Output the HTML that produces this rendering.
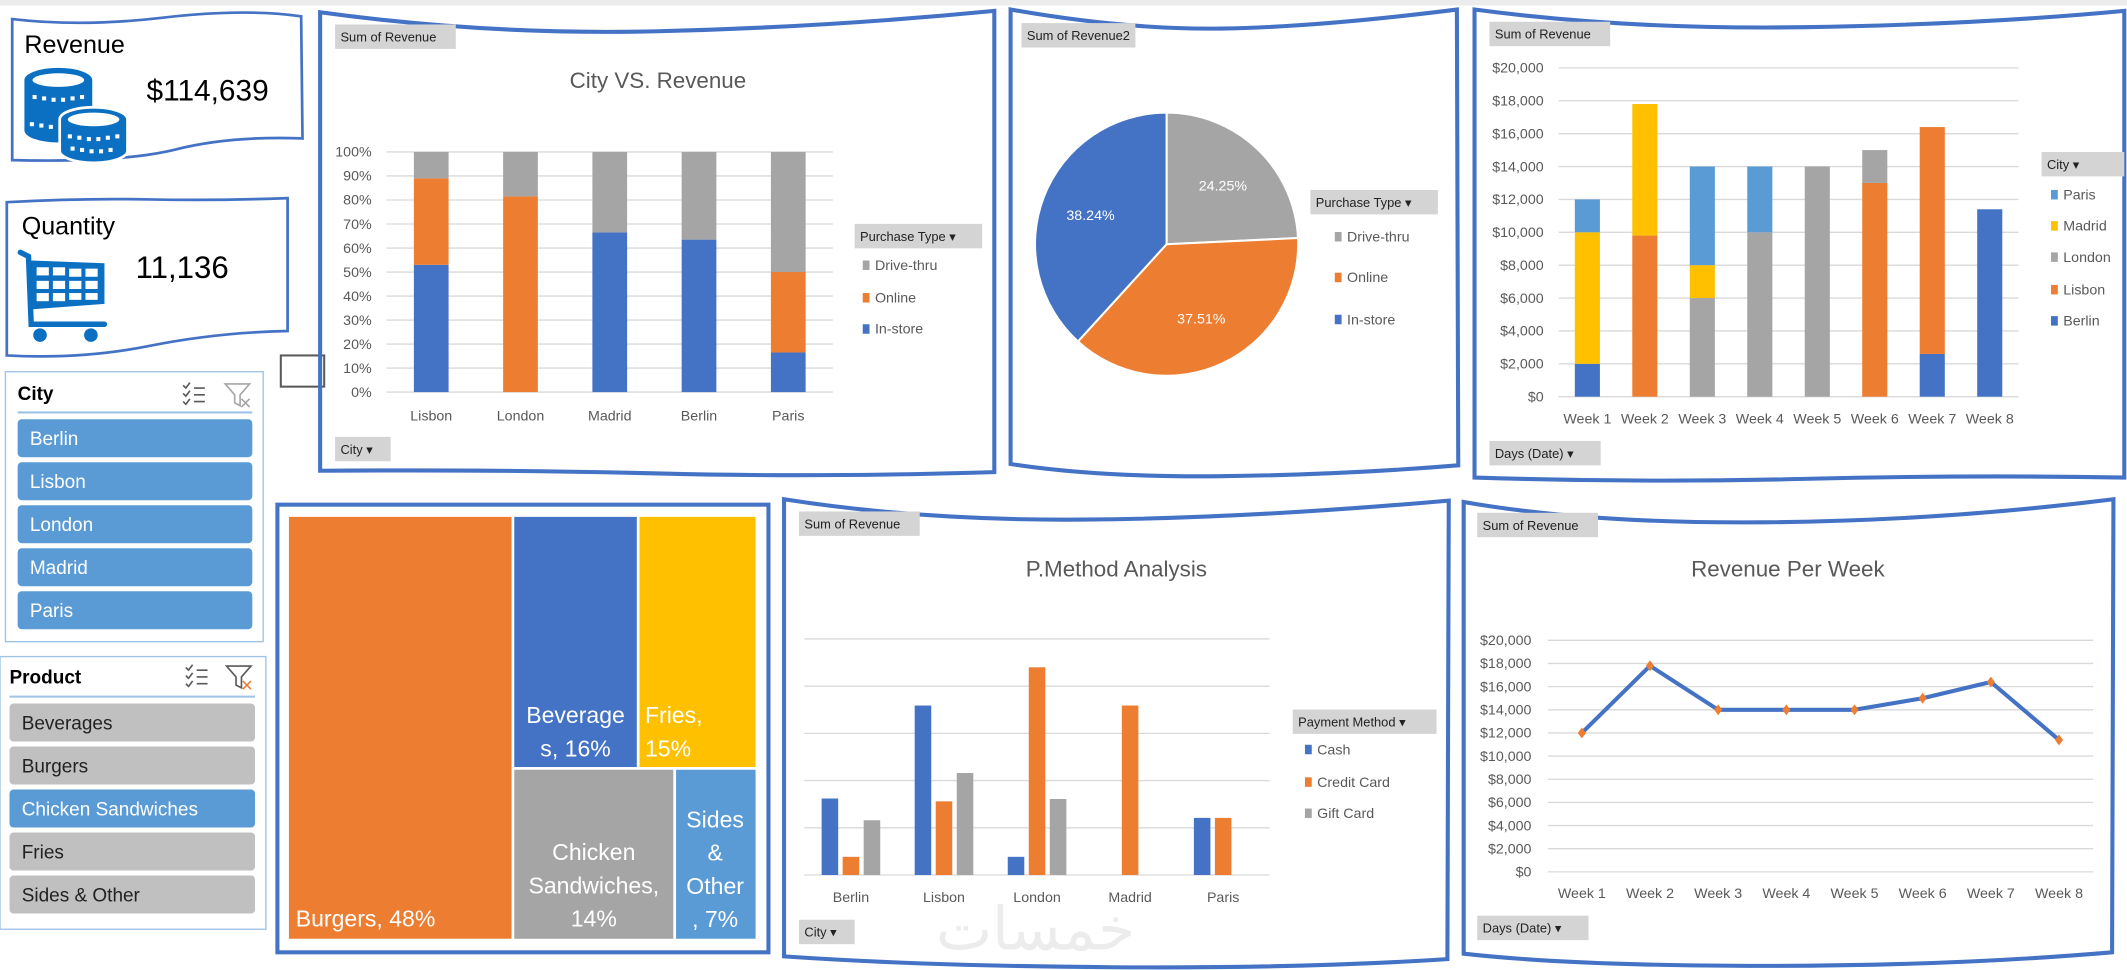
<!DOCTYPE html>
<html><head><meta charset="utf-8">
<style>
html,body{margin:0;padding:0;background:#fff;overflow:hidden;}
svg{display:block;font-family:"Liberation Sans","DejaVu Sans",sans-serif;}
.tag{fill:#d4d4d4;}
.tagt{font-size:9.5px;fill:#222;}
.ax{font-size:10.5px;fill:#595959;}
.lg{font-size:10.5px;fill:#595959;}
.ttl{font-size:16.5px;fill:#595959;}
.grid{stroke:#d9d9d9;stroke-width:1;}
.wave{fill:none;stroke:#4472c4;stroke-width:3;}
</style></head>
<body>
<svg id="s" viewBox="0 0 1568 715" width="2127" height="970" xmlns="http://www.w3.org/2000/svg">
<rect x="0" y="0" width="1568" height="4" fill="#ececec"/>

<!-- Revenue card -->
<g>
<path d="M9 14 Q60 20 120 13 T222 12 L223 102 Q170 100 130 110 T9 118 Z" fill="#fff" stroke="#4472c4" stroke-width="2"/>
<text x="18" y="39" font-size="18.5" fill="#000">Revenue</text>
<text x="108" y="74" font-size="22" fill="#000">$114,639</text>
<g fill="#0b6fc2">
<path d="M18 59 A25 9 0 0 1 68 59 L68 96 A25 9 0 0 1 18 96 Z"/>
<ellipse cx="43" cy="59" rx="19" ry="5" fill="#fff"/>
<path d="M44 88 A25 9 0 0 1 94 88 L94 111 A25 9 0 0 1 44 111 Z" stroke="#fff" stroke-width="2"/>
<ellipse cx="69" cy="88" rx="19" ry="5" fill="#fff"/>
<g fill="#fff"><rect x="24" y="70" width="3" height="3"/><rect x="31" y="71" width="3" height="3"/><rect x="38" y="72" width="3" height="3"/><rect x="45" y="72" width="3" height="3"/><rect x="52" y="71" width="3" height="3"/><rect x="59" y="70" width="3" height="3"/>
<rect x="22" y="90" width="3" height="3"/><rect x="29" y="91" width="3" height="3"/><rect x="36" y="92" width="3" height="3"/>
<rect x="50" y="99" width="3" height="3"/><rect x="57" y="100" width="3" height="3"/><rect x="64" y="101" width="3" height="3"/><rect x="71" y="101" width="3" height="3"/><rect x="78" y="100" width="3" height="3"/><rect x="85" y="99" width="3" height="3"/>
<rect x="52" y="108" width="3" height="3"/><rect x="59" y="109" width="3" height="3"/><rect x="66" y="110" width="3" height="3"/><rect x="73" y="110" width="3" height="3"/><rect x="80" y="109" width="3" height="3"/></g>
</g>
</g>

<!-- Quantity card -->
<g>
<path d="M5 149 Q60 146 110 147 T212 146 L212 244 Q160 245 110 255 T5 262 Z" fill="#fff" stroke="#4472c4" stroke-width="2"/>
<text x="16" y="173" font-size="18.5" fill="#000">Quantity</text>
<text x="100" y="205" font-size="23" fill="#000">11,136</text>
<g>
<path d="M15 186 L21 189 L23 239 L77 239" fill="none" stroke="#0b6fc2" stroke-width="4" stroke-linecap="round"/>
<path d="M23 192 L77 194 L77 224 L23 228 Z" fill="#0b6fc2"/>
<g fill="#fff"><rect x="27" y="197" width="9" height="6"/><rect x="39" y="197" width="9" height="6"/><rect x="51" y="198" width="9" height="6"/><rect x="63" y="198" width="9" height="6"/>
<rect x="27" y="207" width="9" height="6"/><rect x="39" y="207" width="9" height="6"/><rect x="51" y="207" width="9" height="6"/><rect x="63" y="207" width="9" height="6"/>
<rect x="27" y="216" width="9" height="6"/><rect x="39" y="216" width="9" height="6"/><rect x="51" y="216" width="9" height="5"/><rect x="63" y="216" width="9" height="5"/></g>
<circle cx="29.5" cy="247" r="5" fill="#0b6fc2"/><circle cx="67" cy="247" r="5" fill="#0b6fc2"/>
</g>
</g>

<rect x="207" y="262" width="32" height="23" fill="#fff" stroke="#595959" stroke-width="1.5"/>

<!-- City slicer -->
<g>
<rect x="4" y="274" width="190" height="199" fill="#fff" stroke="#9dc3e6" stroke-width="1"/>
<text x="13" y="295" font-size="14" font-weight="bold" fill="#000">City</text>
<g stroke="#595959" stroke-width="1.2" fill="none"><path d="M135 284 l2 2 l3 -4 M135 290 l2 2 l3 -4 M135 296 l2 2 l3 -4 M143 286 h8 M143 291 h8 M143 296 h8"/></g>
<g stroke="#a6a6a6" stroke-width="1.2" fill="none"><path d="M166 283 h18 l-7 8 v8 l-4 -2 v-6 Z M178 294 l6 6 M184 294 l-6 6"/></g>
<line x1="13" y1="304" x2="186" y2="304" stroke="#9dc3e6" stroke-width="1.5"/>
<g id="citySlicer"></g>
</g>

<!-- Product slicer -->
<g>
<rect x="0" y="484" width="196" height="201" fill="#fff" stroke="#9dc3e6" stroke-width="1"/>
<text x="7" y="504" font-size="14" font-weight="bold" fill="#000">Product</text>
<g stroke="#595959" stroke-width="1.2" fill="none"><path d="M137 492 l2 2 l3 -4 M137 498 l2 2 l3 -4 M137 504 l2 2 l3 -4 M145 494 h8 M145 499 h8 M145 504 h8"/></g>
<g stroke-width="1.2" fill="none"><path d="M167 491 h18 l-7 8 v8 l-4 -2 v-6 Z" stroke="#595959"/><path d="M179 502 l6 6 M185 502 l-6 6" stroke="#ed7d31"/></g>
<line x1="7" y1="513.5" x2="188" y2="513.5" stroke="#9dc3e6" stroke-width="1.5"/>
<g id="productSlicer"></g>
</g>

<!-- Panels (wavy borders) -->
<path class="wave" d="M236 9 Q360 26 485 23 T733 8 L733 348 Q600 352 485 349 T236 347 Z" fill="#fff"/>
<path class="wave" d="M745 7 Q830 22 900 21 T1074 7 L1075 343 Q990 350 900 351 T745 342 Z" fill="#fff"/>
<path class="wave" d="M1087 7 Q1200 22 1330 20 T1566 8 L1566 352 Q1450 350 1330 353 T1087 352 Z" fill="#fff"/>
<path class="wave" d="M578 368 Q680 384 800 383 T1068 369 L1067 707 Q960 714 820 713 T578 705 Z" fill="#fff"/>
<path class="wave" d="M1079 370 Q1170 386 1300 385 T1558 368 L1557 702 Q1440 712 1300 712 T1079 703 Z" fill="#fff"/>
<rect x="204.5" y="372" width="362" height="330" fill="#fff" stroke="#4472c4" stroke-width="3"/>

<text x="690" y="700" font-size="44" fill="#ececec" font-family="'Liberation Sans','DejaVu Sans',sans-serif">خمسات</text>

<g id="c1"></g>
<g id="c2"></g>
<g id="c3"></g>
<g id="c4"></g>
<g id="c5"></g>
<g id="c6"></g>
</svg>

<script>
// ---------- data ----------
const cityNames = ['Berlin','Lisbon','London','Madrid','Paris'];
const productNames = ['Beverages','Burgers','Chicken Sandwiches','Fries','Sides & Other'];
const productSelected = [false,false,true,false,false];

const c1Cities = ['Lisbon','London','Madrid','Berlin','Paris'];
const c1InStore = [53, 0, 66.5, 63.5, 16.5];
const c1Online = [36, 81.5, 0, 0, 33.5];
const c1Drive = [11, 18.5, 33.5, 36.5, 50];
const c1Ticks = [0,10,20,30,40,50,60,70,80,90,100];

const pieLabels = ['Drive-thru','Online','In-store'];
const pieValues = [24.25, 37.51, 38.24];

const weeks = ['Week 1','Week 2','Week 3','Week 4','Week 5','Week 6','Week 7','Week 8'];
const wBerlin = [2000, 0, 0, 0, 0, 0, 2600, 11400];
const wLisbon = [0, 9800, 0, 0, 0, 13000, 13800, 0];
const wLondon = [0, 0, 6000, 10000, 14000, 2000, 0, 0];
const wMadrid = [8000, 8000, 2000, 0, 0, 0, 0, 0];
const wParis = [2000, 0, 6000, 4000, 0, 0, 0, 0];
const wTicks = [0,2000,4000,6000,8000,10000,12000,14000,16000,18000,20000];

const tmLabels = ['Burgers','Beverages','Fries','Chicken Sandwiches','Sides & Other'];
const tmValues = [48, 16, 15, 14, 7];

const pmCities = ['Berlin','Lisbon','London','Madrid','Paris'];
const pmCash = [3240, 7180, 770, 0, 2420];
const pmCredit = [770, 3120, 8800, 7180, 2420];
const pmGift = [2320, 4320, 3220, 0, 0];
const pmTicks = [0,2000,4000,6000,8000,10000];

const rpwValues = [12000, 17800, 14000, 14000, 14000, 15000, 16400, 11400];
const rpwTicks = [0,2000,4000,6000,8000,10000,12000,14000,16000,18000,20000];

const BLUE='#4472c4', ORANGE='#ed7d31', GRAY='#a5a5a5', YELLOW='#ffc000', LBLUE='#5b9bd5';
const NS='http://www.w3.org/2000/svg';
function el(tag, attrs, parent){const e=document.createElementNS(NS,tag);for(const k in attrs)e.setAttribute(k,attrs[k]);parent.appendChild(e);return e;}
function tx(str, attrs, parent){const e=el('text',attrs,parent);e.textContent=str;return e;}
function money(v){return '$'+v.toLocaleString('en-US');}
function tag(parent, x, y, w, h, label, arrow, name){
  const r=el('rect',{x:x,y:y,width:w,height:h,class:'tag'},parent);
  
  
  const t=tx(label+(arrow?'  \u25BE':''),{x:x+4,y:y+h/2+3.5,class:'tagt'},parent);
  
  
}
function legendItem(parent,x,y,color,label,name){
  const r=el('rect',{x:x,y:y-7,width:5,height:7,fill:color},parent);
  
  
  const t=tx(label,{x:x+9,y:y,class:'lg'},parent);
  
  
}

// ---------- slicers ----------
(function(){
  const g=document.getElementById('citySlicer');
  cityNames.forEach((c,i)=>{
    const y=309+i*31.7;
    const r=el('rect',{x:13,y:y,width:173,height:28,rx:3,fill:LBLUE},g);
    
    
    const t=tx(c,{x:22,y:y+19,'font-size':14,fill:'#fff'},g);
    
    
  });
  const p=document.getElementById('productSlicer');
  productNames.forEach((c,i)=>{
    const y=518.6+i*31.7;
    const sel=productSelected[i];
    const r=el('rect',{x:7,y:y,width:181,height:28,rx:3,fill:sel?LBLUE:'#c0c0c0'},p);
    
    
    const t=tx(c,{x:16,y:y+19,'font-size':14,fill:sel?'#fff':'#222'},p);
    
    
  });
})();

// ---------- chart 1: 100% stacked ----------
(function(){
  const g=document.getElementById('c1');
  tag(g,247,18,89,18,'Sum of Revenue',false,'value-field-tag');
  const t=tx('City VS. Revenue',{x:485,y:65,'text-anchor':'middle',class:'ttl'},g);
  
  
  const x0=285,x1=614,yB=289,yT=112;
  const Y=v=>yB-(v/100)*(yB-yT);
  const bw=(x1-x0)/c1Cities.length;
  c1Ticks.forEach(v=>{
    const l=el('line',{x1:x0,x2:x1,y1:Y(v),y2:Y(v),class:'grid'},g);
    
    
    const tt=tx(v+'%',{x:274,y:Y(v)+3.5,'text-anchor':'end',class:'ax'},g);
    
    
  });
  c1Cities.forEach((c,i)=>{
    const cx=x0+bw*(i+0.5), w=25.6;
    let acc=0;
    [[c1InStore,BLUE,'in-store'],[c1Online,ORANGE,'online'],[c1Drive,GRAY,'drive-thru']].forEach(([arr,col,nm])=>{
      const v=arr[i]; if(v<=0)return;
      const r=el('rect',{x:cx-w/2,y:Y(acc+v),width:w,height:Y(acc)-Y(acc+v),fill:col},g);
      
      
      acc+=v;
    });
    const lt=tx(c,{x:cx,y:310,'text-anchor':'middle',class:'ax'},g);
    
    
  });
  tag(g,630,165,94,18,'Purchase Type',true,'legend-field-tag');
  legendItem(g,636,199,GRAY,'Drive-thru','legend-entry-drive-thru');
  legendItem(g,636,223,ORANGE,'Online','legend-entry-online');
  legendItem(g,636,246,BLUE,'In-store','legend-entry-in-store');
  tag(g,247,322,41,18,'City',true,'axis-field-tag');
})();

// ---------- chart 2: pie ----------
(function(){
  const g=document.getElementById('c2');
  tag(g,753,17,84,18,'Sum of Revenue2',false,'value-field-tag');
  const cx=860,cy=180,r=97;
  const cols=[GRAY,ORANGE,BLUE];
  const tot=pieValues.reduce((a,b)=>a+b,0);
  let a0=0;
  pieValues.forEach((v,i)=>{
    const a1=a0+v/tot*Math.PI*2;
    const p=(a)=>[cx+r*Math.sin(a),cy-r*Math.cos(a)];
    const [sx,sy]=p(a0),[ex,ey]=p(a1);
    const large=(a1-a0)>Math.PI?1:0;
    const s=el('path',{d:`M${cx} ${cy} L${sx} ${sy} A${r} ${r} 0 ${large} 1 ${ex} ${ey} Z`,fill:cols[i],stroke:'#fff','stroke-width':1.5},g);
    
    
    const am=(a0+a1)/2, lr=r*0.62;
    const lt=tx(v.toFixed(2)+'%',{x:cx+lr*Math.sin(am),y:cy-lr*Math.cos(am)+4,'text-anchor':'middle','font-size':10.5,fill:'#fff'},g);
    
    
    a0=a1;
  });
  tag(g,966,140,94,18,'Purchase Type',true,'legend-field-tag');
  legendItem(g,984,178,GRAY,'Drive-thru','legend-entry-drive-thru');
  legendItem(g,984,208,ORANGE,'Online','legend-entry-online');
  legendItem(g,984,239,BLUE,'In-store','legend-entry-in-store');
})();

// ---------- chart 3: stacked by week ----------
(function(){
  const g=document.getElementById('c3');
  tag(g,1098,16,89,18,'Sum of Revenue',false,'value-field-tag');
  const x0=1149,x1=1488,yB=292.4,yT=50;
  const Y=v=>yB-(v/20000)*(yB-yT);
  const bw=(x1-x0)/weeks.length;
  wTicks.forEach(v=>{
    const l=el('line',{x1:x0,x2:x1,y1:Y(v),y2:Y(v),class:'grid'},g);
    
    
    const tt=tx(money(v),{x:1138,y:Y(v)+3.5,'text-anchor':'end',class:'ax'},g);
    
    
  });
  const series=[[wBerlin,BLUE,'berlin'],[wLisbon,ORANGE,'lisbon'],[wLondon,GRAY,'london'],[wMadrid,YELLOW,'madrid'],[wParis,LBLUE,'paris']];
  weeks.forEach((w,i)=>{
    const cx=x0+bw*(i+0.5), wd=18.5;
    let acc=0;
    series.forEach(([arr,col,nm])=>{
      const v=arr[i]; if(v<=0)return;
      const r=el('rect',{x:cx-wd/2,y:Y(acc+v),width:wd,height:Y(acc)-Y(acc+v),fill:col},g);
      
      
      acc+=v;
    });
    const lt=tx(w,{x:cx,y:312,'text-anchor':'middle',class:'ax'},g);
    
    
  });
  tag(g,1505,112,61,18,'City',true,'legend-field-tag');
  legendItem(g,1512,147,LBLUE,'Paris','legend-entry-paris');
  legendItem(g,1512,170,YELLOW,'Madrid','legend-entry-madrid');
  legendItem(g,1512,193,GRAY,'London','legend-entry-london');
  legendItem(g,1512,217,ORANGE,'Lisbon','legend-entry-lisbon');
  legendItem(g,1512,240,BLUE,'Berlin','legend-entry-berlin');
  tag(g,1098,325,82,18,'Days (Date)',true,'axis-field-tag');
})();

// ---------- chart 4: treemap ----------
(function(){
  const g=document.getElementById('c4');
  const X0=213,X1=557,Y0=381,Y1=692,gap=2;
  const tot=tmValues.reduce((a,b)=>a+b,0);
  const W=X1-X0,H=Y1-Y0;
  const bx=X0+W*tmValues[0]/tot;
  const restTop=tmValues[1]+tmValues[2], restBot=tmValues[3]+tmValues[4];
  const ym=Y0+H*restTop/(restTop+restBot);
  const xBev=bx+(X1-bx)*tmValues[1]/restTop;
  const xChk=bx+(X1-bx)*tmValues[3]/restBot;
  const rects=[[X0,Y0,bx,Y1,ORANGE],[bx,Y0,xBev,ym,BLUE],[xBev,Y0,X1,ym,YELLOW],[bx,ym,xChk,Y1,GRAY],[xChk,ym,X1,Y1,LBLUE]];
  const names=['treemap-burgers','treemap-beverages','treemap-fries','treemap-chicken-sandwiches','treemap-sides-other'];
  rects.forEach((r,i)=>{
    const e=el('rect',{x:r[0]+(i?gap/2:0),y:r[1]+(r[1]>Y0?gap/2:0),width:r[2]-r[0]-(i?gap/2:0)-(r[2]<X1?gap/2:0),height:r[3]-r[1]-(r[1]>Y0?gap/2:0)-(r[3]<Y1?gap/2:0),fill:r[4]},g);
    
    
  });
  const fs=17;
  const lab=(lines,x,y,anchor)=>{lines.forEach((s,k)=>{const t=tx(s,{x:x,y:y+k*24.5,'text-anchor':anchor,'font-size':fs,fill:'#fff'},g);
    
    });};
  lab([tmLabels[0]+', '+tmValues[0]+'%'],X0+5,Y1-9,'start');
  lab(['Beverage','s, '+tmValues[1]+'%'],(bx+xBev)/2,533,'middle');
  lab(['Fries,',' '+tmValues[2]+'%'],xBev+5,533,'start');
  lab(['Chicken','Sandwiches,',tmValues[3]+'%'],(bx+xChk)/2,634,'middle');
  lab(['Sides','&','Other',', '+tmValues[4]+'%'],(xChk+X1)/2,610,'middle');
})();

// ---------- chart 5: clustered columns ----------
(function(){
  const g=document.getElementById('c5');
  tag(g,589,377,89,18,'Sum of Revenue',false,'value-field-tag');
  const t=tx('P.Method Analysis',{x:823,y:425,'text-anchor':'middle',class:'ttl'},g);
  
  
  const x0=593,x1=936,yB=645,yT=471;
  const Y=v=>yB-(v/10000)*(yB-yT);
  const bw=(x1-x0)/pmCities.length;
  pmTicks.forEach(v=>{
    const l=el('line',{x1:x0,x2:x1,y1:Y(v),y2:Y(v),class:'grid'},g);
    
    
  });
  pmCities.forEach((c,i)=>{
    const cx=x0+bw*(i+0.5), w=12.2;
    [[pmCash,BLUE,-15.5,'cash'],[pmCredit,ORANGE,0,'credit-card'],[pmGift,GRAY,15.5,'gift-card']].forEach(([arr,col,off,nm])=>{
      const v=arr[i]; if(v<=0)return;
      const r=el('rect',{x:cx+off-w/2,y:Y(v),width:w,height:yB-Y(v),fill:col},g);
      
      
    });
    const lt=tx(c,{x:cx,y:665,'text-anchor':'middle',class:'ax'},g);
    
    
  });
  tag(g,953,523,106,18,'Payment Method',true,'legend-field-tag');
  legendItem(g,962,556,BLUE,'Cash','legend-entry-cash');
  legendItem(g,962,580,ORANGE,'Credit Card','legend-entry-credit-card');
  legendItem(g,962,603,GRAY,'Gift Card','legend-entry-gift-card');
  tag(g,589,678,41,18,'City',true,'axis-field-tag');
})();

// ---------- chart 6: line ----------
(function(){
  const g=document.getElementById('c6');
  tag(g,1089,378,89,18,'Sum of Revenue',false,'value-field-tag');
  const t=tx('Revenue Per Week',{x:1318,y:425,'text-anchor':'middle',class:'ttl'},g);
  
  
  const x0=1141,x1=1543,yB=642.7,yT=472;
  const Y=v=>yB-(v/20000)*(yB-yT);
  const bw=(x1-x0)/weeks.length;
  const X=i=>x0+bw*(i+0.5);
  rpwTicks.forEach(v=>{
    const l=el('line',{x1:x0,x2:x1,y1:Y(v),y2:Y(v),class:'grid'},g);
    
    
    const tt=tx(money(v),{x:1129,y:Y(v)+3.5,'text-anchor':'end',class:'ax'},g);
    
    
  });
  const pts=rpwValues.map((v,i)=>X(i)+','+Y(v)).join(' ');
  const pl=el('polyline',{points:pts,fill:'none',stroke:BLUE,'stroke-width':3,'stroke-linejoin':'round'},g);
  
  
  rpwValues.forEach((v,i)=>{
    const x=X(i),y=Y(v);
    const m=el('path',{d:`M${x} ${y-4} L${x+3} ${y} L${x} ${y+4} L${x-3} ${y} Z`,fill:ORANGE},g);
    
    
  });
  weeks.forEach((w,i)=>{
    const lt=tx(w,{x:X(i),y:662,'text-anchor':'middle',class:'ax'},g);
    
    
  });
  tag(g,1089,675,82,18,'Days (Date)',true,'axis-field-tag');
})();
</script>
</body></html>
